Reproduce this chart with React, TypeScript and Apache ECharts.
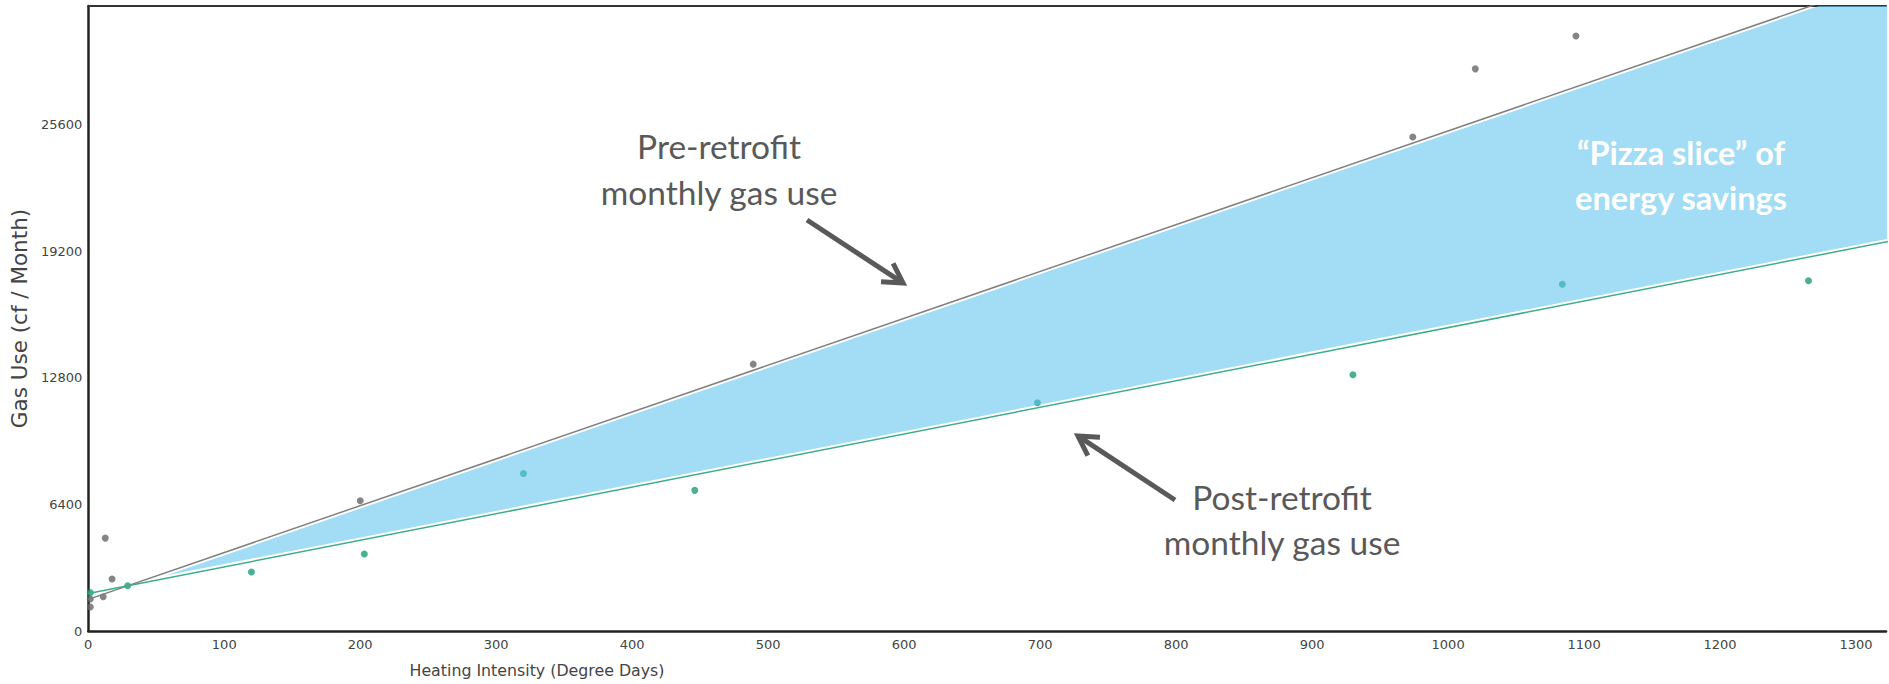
import React, { useEffect, useRef } from "react";
import * as echarts from "echarts";

// Pre-retrofit monthly observations (Heating Degree Days, cf / Month)
const preX = [1.5, 1.5, 11, 12.5, 17.5, 200, 489, 974, 1020, 1094];
const preY = [1620, 1210, 1735, 4700, 2630, 6590, 13500, 24990, 28440, 30100];
// Post-retrofit monthly observations
const postX = [1.5, 29, 120, 203, 320, 446, 698, 930, 1084, 1265];
const postY = [1940, 2290, 2985, 3895, 7970, 7115, 11550, 12965, 17540, 17720];
// Fitted regression lines (end points)
const preFitX = [0, 1400];
const preFitY = [1600, 34780];
const postFitX = [0, 1400];
const postFitY = [1900, 20730];

const xMin = 0;
const xMax = 1322;
const xStep = 100;
const yMin = 0;
const yMax = 31620;
const yStep = 6400;

const ANN = "#595959";
const AXIS_TXT = "#444444";

function arrow(x1: number, y1: number, x2: number, y2: number) {
  const dx = x2 - x1;
  const dy = y2 - y1;
  const L = Math.hypot(dx, dy);
  const ux = dx / L;
  const uy = dy / L;
  const len = 22;
  const ang = Math.PI / 6;
  const arm = (a: number) => [
    x2 - len * (ux * Math.cos(a) - uy * Math.sin(a)),
    y2 - len * (uy * Math.cos(a) + ux * Math.sin(a)),
  ];
  return [
    {
      type: "line",
      z: 100,
      shape: { x1, y1, x2: x2 - ux * 3, y2: y2 - uy * 3 },
      style: { stroke: ANN, lineWidth: 5 },
    },
    {
      type: "polyline",
      z: 100,
      shape: { points: [arm(ang), [x2, y2], arm(-ang)] },
      style: { stroke: ANN, lineWidth: 5, fill: null, lineJoin: "miter" },
    },
  ];
}

function txt(text: string, x: number, y: number, size: number, color: string, weight = "normal", family = "Lato") {
  return {
    type: "text",
    z: 100,
    x,
    y,
    style: {
      text,
      fill: color,
      fontSize: size,
      fontFamily: family,
      fontWeight: weight,
      align: "center",
      verticalAlign: "middle",
    },
  };
}

function intersect(p1: number[], p2: number[], q1: number[], q2: number[]) {
  const r = [p2[0] - p1[0], p2[1] - p1[1]];
  const s = [q2[0] - q1[0], q2[1] - q1[1]];
  const den = r[0] * s[1] - r[1] * s[0];
  const t = ((q1[0] - p1[0]) * s[1] - (q1[1] - p1[1]) * s[0]) / den;
  return [p1[0] + t * r[0], p1[1] + t * r[1]];
}

export default function App() {
  const ref = useRef<HTMLDivElement>(null);
  useEffect(() => {
    const chart = echarts.init(ref.current!, null, { renderer: "svg" });
    const tickFont = { color: AXIS_TXT, fontSize: 13, fontFamily: "DejaVu Sans" };
    const option: any = {
      animation: false,
      backgroundColor: "#ffffff",
      grid: { left: 87, right: 0, top: 6, bottom: 53, containLabel: false },
      xAxis: [
        {
          type: "value",
          min: xMin,
          max: xMax,
          interval: xStep,
          axisLine: { show: true, onZero: false, lineStyle: { color: "#222", width: 2.5 } },
          axisTick: { show: false },
          splitLine: { show: false },
          axisLabel: {
            ...tickFont,
            margin: 7,
            formatter: (v: number) => (v % xStep === 0 ? String(v) : ""),
          },
        },
        {
          type: "value",
          position: "top",
          min: xMin,
          max: xMax,
          interval: xStep,
          axisLine: { show: true, onZero: false, lineStyle: { color: "#333", width: 2 } },
          axisTick: { show: false },
          splitLine: { show: false },
          axisLabel: { show: false },
        },
      ],
      yAxis: {
        type: "value",
        min: yMin,
        max: yMax,
        interval: yStep,
        name: "Gas Use (cf / Month)",
        nameLocation: "middle",
        nameGap: 54,
        nameRotate: 90,
        nameTextStyle: { color: AXIS_TXT, fontSize: 21.5, fontFamily: "DejaVu Sans" },
        axisLine: { show: true, onZero: false, lineStyle: { color: "#222", width: 2.5 } },
        axisTick: { show: false },
        splitLine: { show: false },
        axisLabel: {
          ...tickFont,
          margin: 6,
          formatter: (v: number) => (v % yStep === 0 ? String(v) : ""),
        },
      },
      series: [
        {
          type: "scatter",
          z: 2,
          symbolSize: 7,
          itemStyle: { color: "#666666" },
          data: preX.map((x, i) => [x, preY[i]]),
        },
        {
          type: "scatter",
          z: 2,
          symbolSize: 7,
          itemStyle: { color: "#1b9e77" },
          data: postX.map((x, i) => [x, postY[i]]),
        },
        {
          type: "custom",
          z: 3,
          clip: true,
          silent: true,
          data: [[0, 0]],
          renderItem: (_params: any, api: any) => {
            const a1 = api.coord([preFitX[0], preFitY[0]]);
            const a2 = api.coord([preFitX[1], preFitY[1]]);
            const b1 = api.coord([postFitX[0], postFitY[0]]);
            const b2 = api.coord([postFitX[1], postFitY[1]]);
            const g = 2.8;
            const u1 = [a1[0], a1[1] + g];
            const u2 = [a2[0], a2[1] + g];
            const l1 = [b1[0], b1[1] - g];
            const l2 = [b2[0], b2[1] - g];
            const tip = intersect(u1, u2, l1, l2);
            return {
              type: "polygon",
              shape: { points: [tip, u2, l2] },
              style: { fill: "rgba(95,194,238,0.58)" },
            };
          },
        },
        {
          type: "line",
          z: 4,
          showSymbol: false,
          symbol: "none",
          lineStyle: { color: "#808080", width: 1.5 },
          data: preFitX.map((x, i) => [x, preFitY[i]]),
        },
        {
          type: "line",
          z: 4,
          showSymbol: false,
          symbol: "none",
          lineStyle: { color: "#3fae88", width: 1.5 },
          data: postFitX.map((x, i) => [x, postFitY[i]]),
        },
      ],
      graphic: [
        txt("Heating Intensity (Degree Days)", 537, 670, 15.8, AXIS_TXT, "normal", "DejaVu Sans"),
        txt("Pre-retrofit", 719, 146, 33.5, ANN),
        txt("monthly gas use", 719, 192, 33.5, ANN),
        ...arrow(807, 220, 903, 283),
        txt("Post-retrofit", 1282, 497, 33.5, ANN),
        txt("monthly gas use", 1282, 542, 33.5, ANN),
        ...arrow(1175, 500, 1078, 436),
        txt("\u201CPizza slice\u201D of", 1681, 152, 32.5, "#ffffff", "bold"),
        txt("energy savings", 1681, 197, 32.5, "#ffffff", "bold"),
      ],
    };
    chart.setOption(option);
    return () => chart.dispose();
  }, []);
  return (
    <div
      ref={ref}
      style={{ position: "fixed", left: 0, top: 0, width: 1889, height: 684, background: "#fff" }}
    />
  );
}
